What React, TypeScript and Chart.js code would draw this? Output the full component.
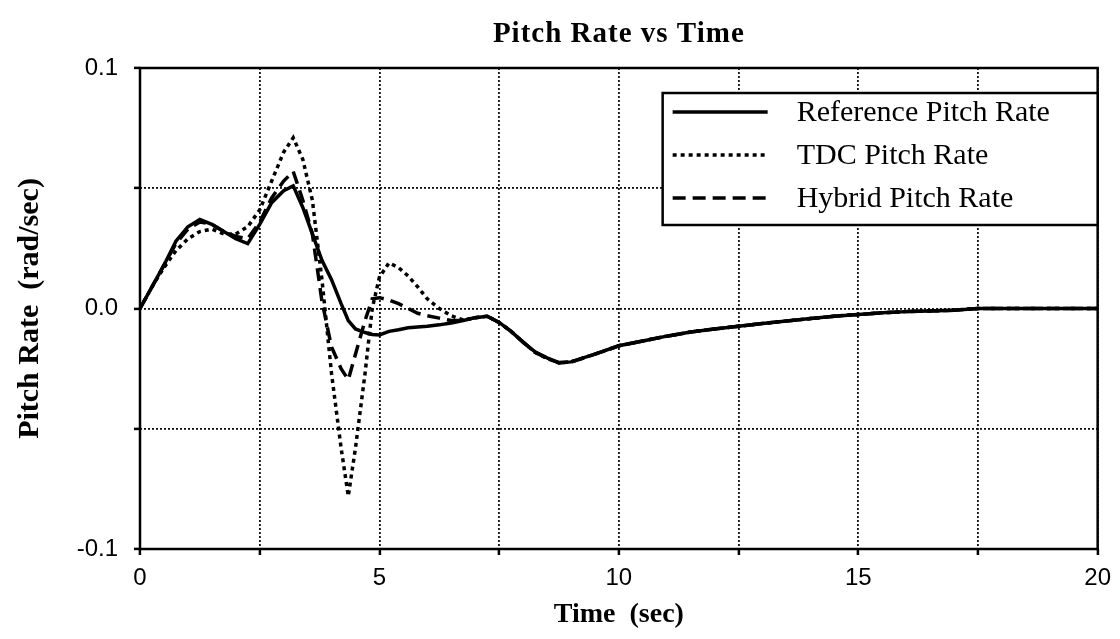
import React, { useEffect, useRef } from "react";
import { Chart, registerables } from "chart.js";

Chart.register(...registerables);

// ---- Data ----
const timeSec = [
  0, 0.25, 0.5, 0.75, 1.0, 1.25, 1.5, 1.75, 2.0, 2.25, 2.5, 2.75, 3.0, 3.2, 3.4,
  3.6, 3.8, 4.0, 4.2, 4.35, 4.5, 4.7, 4.85, 5.0, 5.2, 5.4, 5.6, 5.8, 6.0, 6.25,
  6.5, 6.75, 7.0, 7.25, 7.5, 7.75, 8.0, 8.25, 8.5, 8.75, 9.0, 9.5, 10, 10.5, 11,
  11.5, 12, 12.5, 13, 13.5, 14, 14.5, 15, 15.5, 16, 16.5, 17, 17.5, 18, 19, 20,
];

const referencePitchRate = [
  0, 0.009, 0.018, 0.028, 0.034, 0.037, 0.035, 0.032, 0.029, 0.027, 0.035, 0.044,
  0.049, 0.051, 0.042, 0.031, 0.02, 0.012, 0.002, -0.005, -0.0085, -0.01, -0.0108,
  -0.011, -0.0095, -0.0088, -0.008, -0.0077, -0.0074, -0.0068, -0.006, -0.005,
  -0.0038, -0.0032, -0.0058, -0.0095, -0.014, -0.018, -0.0205, -0.0225, -0.0222,
  -0.019, -0.0155, -0.0135, -0.0115, -0.0098, -0.0085, -0.0074, -0.0062, -0.0052,
  -0.0042, -0.0032, -0.0025, -0.0018, -0.0013, -0.001, -0.0007, 0, 0, 0, 0,
];

const tdcPitchRate = [
  0, 0.009, 0.017, 0.024, 0.029, 0.032, 0.033, 0.031, 0.031, 0.034, 0.041, 0.053,
  0.065, 0.071, 0.062, 0.045, 0.012, -0.027, -0.058, -0.078, -0.058, -0.027, 0.0,
  0.013, 0.019, 0.017, 0.0135, 0.009, 0.004, 0.0, -0.003, -0.0048, -0.0038,
  -0.0032, -0.0058, -0.0095, -0.014, -0.0182, -0.0208, -0.0226, -0.0222, -0.019,
  -0.0155, -0.0135, -0.0115, -0.0098, -0.0085, -0.0074, -0.0062, -0.0052, -0.0042,
  -0.0032, -0.0025, -0.0018, -0.0013, -0.001, -0.0007, 0, 0, 0, 0,
];

const hybridPitchRate = [
  0, 0.009, 0.018, 0.027, 0.033, 0.036, 0.035, 0.032, 0.03, 0.029, 0.036, 0.046,
  0.053, 0.057, 0.045, 0.031, 0.003, -0.016, -0.025, -0.0296, -0.019, -0.005,
  0.004, 0.0045, 0.0035, 0.002, 0.0, -0.002, -0.003, -0.004, -0.005, -0.005,
  -0.0038, -0.0032, -0.0058, -0.0095, -0.014, -0.0182, -0.0207, -0.0226, -0.0223,
  -0.019, -0.0155, -0.0135, -0.0115, -0.0098, -0.0085, -0.0074, -0.0062, -0.0052,
  -0.0042, -0.0032, -0.0025, -0.0018, -0.0013, -0.001, -0.0007, 0, 0, 0, 0,
];

const seriesLabels = ["Reference Pitch Rate", "TDC Pitch Rate", "Hybrid Pitch Rate"];
const xLabelValues = [0, 5, 10, 15, 20];
const yLabelValues = [-0.1, 0, 0.1];

const chartTitle = "Pitch Rate vs Time";
const xAxisTitle = "Time  (sec)";
const yAxisTitle = "Pitch Rate  (rad/sec)";

const SERIF = "'Liberation Serif', 'Times New Roman', serif";
const SANS = "'Liberation Sans', Arial, sans-serif";

const framePlugin = {
  id: "frameAndLegend",
  afterDatasetsDraw(chart: any) {
    const { ctx, chartArea: a } = chart;
    ctx.save();
    ctx.setLineDash([]);
    ctx.strokeStyle = "#000";
    ctx.lineWidth = 2.5;
    ctx.strokeRect(a.left, a.top, a.right - a.left, a.bottom - a.top);

    // legend box inside the plot, top-right
    const bw = 435;
    const bh = 132;
    const bx = a.right - bw;
    const by = a.top + 25;
    ctx.fillStyle = "#fff";
    ctx.fillRect(bx, by, bw, bh);
    ctx.lineWidth = 2.5;
    ctx.strokeRect(bx, by, bw, bh);

    ctx.font = `30px ${SERIF}`;
    ctx.textBaseline = "middle";
    ctx.textAlign = "left";
    chart.data.datasets.forEach((ds: any, i: number) => {
      const y = by + 19 + i * 43;
      ctx.beginPath();
      ctx.setLineDash(ds.borderDash || []);
      ctx.strokeStyle = "#000";
      ctx.lineWidth = ds.borderWidth;
      ctx.moveTo(bx + 10, y);
      ctx.lineTo(bx + 105, y);
      ctx.stroke();
      ctx.setLineDash([]);
      ctx.fillStyle = "#000";
      ctx.fillText(ds.label, bx + 134, y + 1);
    });
    ctx.restore();
  },
};

const titlePlugin = {
  id: "topTitle",
  afterDraw(chart: any) {
    const { ctx, chartArea: a } = chart;
    ctx.save();
    ctx.font = `bold 29px ${SERIF}`;
    ctx.fillStyle = "#000";
    ctx.textAlign = "center";
    ctx.textBaseline = "middle";
    try {
      (ctx as any).letterSpacing = "1px";
    } catch (e) {}
    ctx.fillText(chartTitle, (a.left + a.right) / 2, 35);
    ctx.restore();
  },
};

const isNear = (v: number, list: number[]) => list.some((t) => Math.abs(v - t) < 1e-9);

export default function App() {
  const canvasRef = useRef<HTMLCanvasElement | null>(null);

  useEffect(() => {
    if (!canvasRef.current) return;
    const mk = (vals: number[]) => timeSec.map((t, i) => ({ x: t, y: vals[i] }));
    const gridOpts = {
      color: "#111",
      lineWidth: 1.8,
      tickLength: 6,
      tickColor: "#000",
      tickWidth: 2.5,
      tickBorderDash: [],
    };
    const chart = new Chart(canvasRef.current, {
      type: "line",
      data: {
        datasets: [
          {
            label: seriesLabels[0],
            data: mk(referencePitchRate),
            borderColor: "#000",
            borderWidth: 3.5,
            borderDash: [],
            pointRadius: 0,
            tension: 0,
            fill: false,
          },
          {
            label: seriesLabels[1],
            data: mk(tdcPitchRate),
            borderColor: "#000",
            borderWidth: 3.5,
            borderDash: [4, 4],
            pointRadius: 0,
            tension: 0,
            fill: false,
          },
          {
            label: seriesLabels[2],
            data: mk(hybridPitchRate),
            borderColor: "#000",
            borderWidth: 3.5,
            borderDash: [13, 7],
            pointRadius: 0,
            tension: 0,
            fill: false,
          },
        ],
      },
      options: {
        animation: false,
        responsive: false,
        maintainAspectRatio: false,
        layout: { padding: { top: 68, right: 22, left: 0, bottom: 0 } },
        plugins: {
          legend: { display: false },
          title: { display: false },
          tooltip: { enabled: false },
        },
        scales: {
          x: {
            type: "linear",
            min: 0,
            max: 20,
            afterFit: (s: any) => {
              s.height = 90;
            },
            ticks: {
              stepSize: 2.5,
              autoSkip: false,
              maxRotation: 0,
              padding: 9,
              color: "#000",
              font: { family: SANS, size: 24 },
              callback: (v: any) => (isNear(Number(v), xLabelValues) ? String(Math.round(Number(v))) : ""),
            },
            grid: gridOpts,
            border: { display: false, dash: [2, 2] },
            title: {
              display: true,
              text: xAxisTitle,
              color: "#000",
              font: { family: SERIF, size: 28, weight: "bold" },
              padding: { top: 0, bottom: 7 },
            },
          },
          y: {
            type: "linear",
            min: -0.1,
            max: 0.1,
            afterFit: (s: any) => {
              s.width = 140;
            },
            ticks: {
              stepSize: 0.05,
              autoSkip: false,
              padding: 16,
              color: "#000",
              font: { family: SANS, size: 24 },
              callback: (v: any) => (isNear(Number(v), yLabelValues) ? Number(v).toFixed(1) : ""),
            },
            grid: gridOpts,
            border: { display: false, dash: [2, 2] },
            title: {
              display: true,
              text: yAxisTitle,
              color: "#000",
              font: { family: SERIF, size: 30, weight: "bold" },
              padding: { top: 12, bottom: 0 },
            },
          },
        },
      },
      plugins: [framePlugin, titlePlugin],
    } as any);
    return () => chart.destroy();
  }, []);

  return (
    <div style={{ position: "absolute", left: 0, top: 0, width: 1120, height: 639, background: "#fff" }}>
      <canvas ref={canvasRef} width={1120} height={639} style={{ width: 1120, height: 639, display: "block" }} />
    </div>
  );
}
